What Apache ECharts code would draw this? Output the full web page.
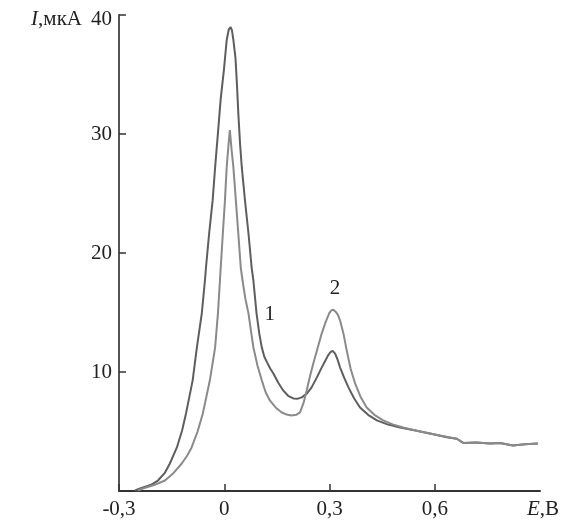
<!DOCTYPE html>
<html>
<head>
<meta charset="utf-8">
<script src="https://cdn.jsdelivr.net/npm/echarts@6/dist/echarts.min.js"></script>
<style>
html,body{margin:0;padding:0;background:#fff;}
#chart{width:567px;height:521px;}
</style>
</head>
<body>
<div id="chart"></div>
<script>
// Curve 1 (taller first peak): [E, I]
const curve1 = [
  [-0.254,0.04],[-0.240,0.21],[-0.210,0.50],[-0.189,0.88],[-0.170,1.50],[-0.155,2.31],[-0.135,3.66],[-0.120,5.10],[-0.109,6.52],
  [-0.090,9.30],[-0.078,12.07],[-0.064,14.93],[-0.055,17.71],[-0.052,18.80],[-0.043,21.66],
  [-0.033,24.44],[-0.026,27.21],[-0.018,30.07],[-0.010,32.99],[-0.001,35.37],[0.007,37.90],
  [0.013,38.80],[0.018,38.99],[0.022,38.70],[0.026,37.90],[0.032,36.40],[0.036,34.30],[0.040,31.80],[0.045,29.20],[0.050,27.21],
  [0.059,24.44],[0.069,21.66],[0.078,18.80],[0.083,17.71],[0.092,14.93],[0.100,13.20],[0.107,12.07],
  [0.114,11.30],[0.122,10.81],[0.131,10.30],[0.140,9.88],[0.154,9.10],[0.168,8.45],[0.182,8.00],[0.197,7.78],[0.210,7.76],[0.221,7.87],[0.236,8.20],[0.249,8.71],
  [0.264,9.55],[0.278,10.39],[0.288,10.95],[0.296,11.40],[0.303,11.68],[0.309,11.78],[0.316,11.55],[0.323,11.05],[0.330,10.39],[0.342,9.50],[0.354,8.71],[0.370,7.80],[0.387,7.02],
  [0.410,6.40],[0.435,5.93],[0.465,5.60],[0.501,5.34],[0.545,5.08],[0.586,4.84],[0.638,4.50]
];
// Curve 2 (higher second peak): [E, I]
const curve2 = [
  [-0.246,0.04],[-0.232,0.21],[-0.200,0.50],[-0.169,0.88],[-0.145,1.50],[-0.121,2.31],[-0.105,3.00],[-0.093,3.66],[-0.076,5.00],[-0.061,6.52],
  [-0.041,9.30],[-0.026,12.07],[-0.018,14.93],[-0.014,16.87],[-0.010,18.80],[-0.004,21.66],
  [0.002,24.44],[0.007,27.21],[0.012,29.06],[0.016,30.33],[0.021,28.64],[0.026,27.21],
  [0.033,24.44],[0.040,21.66],[0.047,18.80],[0.052,17.71],[0.060,16.20],[0.069,14.93],[0.076,13.50],[0.083,12.07],
  [0.095,10.50],[0.107,9.30],[0.118,8.30],[0.130,7.61],[0.147,7.00],[0.164,6.60],[0.178,6.42],[0.192,6.35],[0.205,6.40],[0.216,6.60],[0.226,7.40],[0.235,8.45],
  [0.244,9.60],[0.254,10.73],[0.266,12.00],[0.278,13.25],[0.289,14.20],[0.299,14.93],[0.305,15.18],[0.311,15.23],[0.318,15.05],[0.324,14.80],[0.330,14.34],[0.340,13.20],[0.349,11.82],
  [0.360,10.30],[0.373,9.04],[0.388,7.95],[0.406,7.02],[0.428,6.40],[0.453,5.93],[0.480,5.60],[0.510,5.34],[0.558,5.00],[0.615,4.67]
];
// Common tail where both curves merge
const tail = [
  [0.663,4.39],[0.681,4.04],[0.718,4.08],[0.758,4.00],[0.786,4.04],[0.823,3.83],[0.857,3.92],[0.894,4.00]
];
const xTicks = ['-0,3','0','0,3','0,6'];
const yTicks = [10,20,30,40];
const curveLabels = [
  {name:'1', coord:[0.130,14.85]},
  {name:'2', coord:[0.316,17.03]}
];

const FONT = 'Liberation Serif';
const chart = echarts.init(document.getElementById('chart'));
const labelMark = (item) => ({
  symbol:'circle', symbolSize:1, silent:true,
  itemStyle:{color:'rgba(0,0,0,0)'},
  label:{show:true, position:'inside', formatter:item.name, color:'#222', fontFamily:FONT, fontSize:21},
  data:[{coord:item.coord, value:item.name}]
});

chart.setOption({
  animation:false,
  backgroundColor:'#fff',
  grid:{left:119, right:27, top:15, bottom:30},
  xAxis:{
    type:'value', min:-0.3, max:0.9, interval:0.3,
    name:'{i|E},В', nameLocation:'end', nameGap:3,
    nameTextStyle:{align:'center', verticalAlign:'top', padding:[8,0,0,0], color:'#222', fontFamily:FONT, fontSize:21,
      rich:{i:{fontStyle:'italic', fontFamily:FONT, fontSize:21, color:'#222'}}},
    axisLine:{show:true, onZero:false, lineStyle:{color:'#333', width:2}},
    axisTick:{show:true, inside:true, length:7, lineStyle:{color:'#333', width:1.5}},
    axisLabel:{showMaxLabel:false, margin:8, color:'#222', fontFamily:FONT, fontSize:21,
      formatter:(v)=>{ const i = Math.round((v+0.3)/0.3); return xTicks[i] !== undefined ? xTicks[i] : ''; }},
    splitLine:{show:false}
  },
  yAxis:{
    type:'value', min:0, max:40, interval:10,
    name:'{i|I},мкА', nameLocation:'end', nameGap:0,
    nameTextStyle:{align:'right', verticalAlign:'middle', padding:[9,37,0,0], color:'#222', fontFamily:FONT, fontSize:21,
      rich:{i:{fontStyle:'italic', fontFamily:FONT, fontSize:21, color:'#222'}}},
    axisLine:{show:true, onZero:false, lineStyle:{color:'#555', width:2}},
    axisTick:{show:true, inside:true, length:7, lineStyle:{color:'#333', width:1.5}},
    axisLabel:{showMinLabel:false, margin:7, color:'#222', fontFamily:FONT, fontSize:21,
      formatter:(v)=>{ if(v===40) return '{t|40}'; return yTicks.indexOf(v)>=0 ? String(v) : ''; },
      rich:{t:{padding:[8,0,0,0], fontFamily:FONT, fontSize:21, color:'#222'}}},
    splitLine:{show:false}
  },
  series:[
    {type:'line', data:curve1.concat(tail), showSymbol:false, smooth:false,
      lineStyle:{color:'#5e5e5e', width:2}, markPoint:labelMark(curveLabels[0])},
    {type:'line', data:curve2.concat(tail), showSymbol:false, smooth:false,
      lineStyle:{color:'#8a8a8a', width:2}, markPoint:labelMark(curveLabels[1])}
  ]
});
</script>
</body>
</html>
